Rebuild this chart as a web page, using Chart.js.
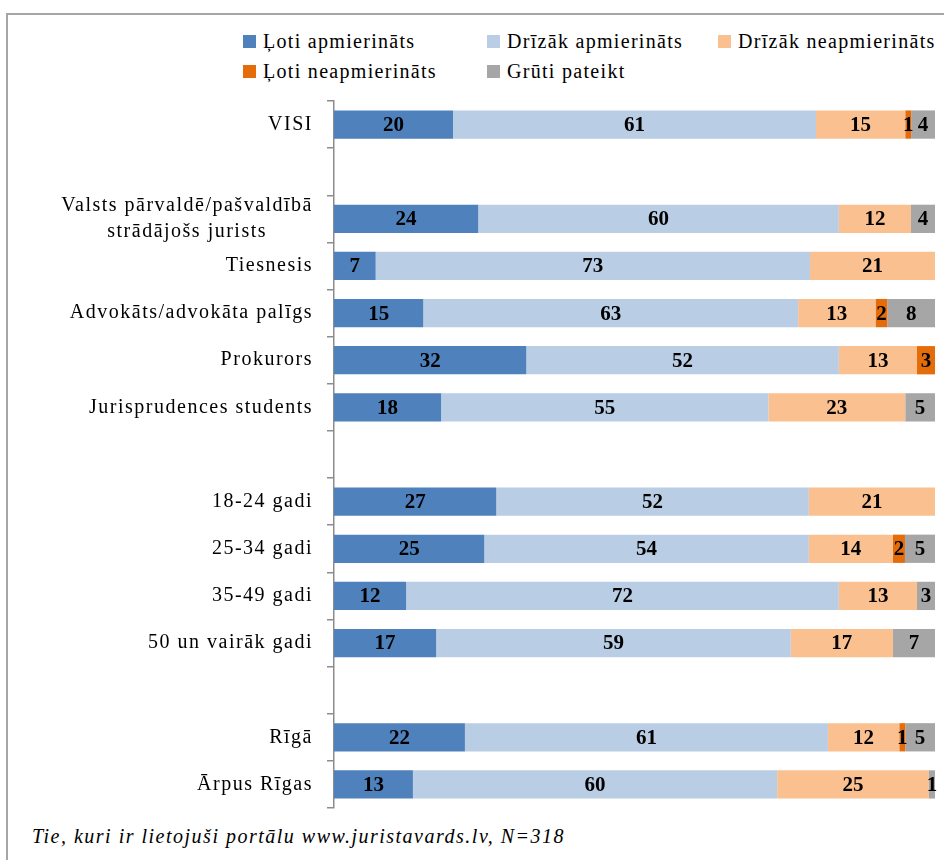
<!DOCTYPE html>
<html>
<head>
<meta charset="utf-8">
<script src="https://cdn.jsdelivr.net/npm/chart.js@4.4.0/dist/chart.umd.min.js"></script>
<style>
  body { margin: 0; background: #fff; }
  #wrap { position: relative; width: 944px; height: 860px; overflow: hidden; }
  #frame { position: absolute; left: 6px; top: 13px; width: 1000px; height: 1000px;
           border-left: 2px solid #a6a6a6; border-top: 2px solid #a6a6a6; }
  #legend { position: absolute; left: 243px; top: 26px; font-family: "Liberation Serif", serif;
            font-size: 20px; letter-spacing: 1.3px; color: #000; white-space: nowrap; }
  .row { display: flex; height: 30px; align-items: center; }
  .item { display: flex; align-items: center; }
  .item:nth-child(1) { width: 244px; }
  .item:nth-child(2) { width: 231px; }
  .sq { width: 13px; height: 13px; margin-right: 7px; }
  #chartBox { position: absolute; left: 0; top: 90px; width: 944px; height: 725px; }
  #note { position: absolute; left: 32px; top: 825px; font-family: "Liberation Serif", serif;
          font-size: 20px; font-style: italic; letter-spacing: 1.5px; white-space: nowrap; }
</style>
</head>
<body>
<div id="wrap">
  <div id="frame"></div>
  <div id="legend"></div>
  <div id="chartBox"><canvas id="chart"></canvas></div>
  <div id="note">Tie, kuri ir lietojuši portālu www.juristavards.lv, N=318</div>
</div>
<script>
// kategorijas (tukšās rindas = atstarpes starp grupām)
const categories = [
    'VISI', '',
    ['Valsts pārvaldē/pašvaldībā', 'strādājošs jurists'],
    'Tiesnesis', 'Advokāts/advokāta palīgs', 'Prokurors', 'Jurisprudences students', '',
    '18-24 gadi', '25-34 gadi', '35-49 gadi', '50 un vairāk gadi', '',
    'Rīgā', 'Ārpus Rīgas'
];

const seriesNames = ['Ļoti apmierināts', 'Drīzāk apmierināts', 'Drīzāk neapmierināts', 'Ļoti neapmierināts', 'Grūti pateikt'];
const seriesColors = ['#4f81bd', '#b9cde5', '#fac090', '#e46c0a', '#a6a6a6'];

const lotiApm      = [20, null, 24,  7, 15, 32, 18, null, 27, 25, 12, 17, null, 22, 13];
const drizakApm    = [61, null, 60, 73, 63, 52, 55, null, 52, 54, 72, 59, null, 61, 60];
const drizakNeapm  = [15, null, 12, 21, 13, 13, 23, null, 21, 14, 13, 17, null, 12, 25];
const lotiNeapm    = [ 1, null,  0,  0,  2,  3,  0, null,  0,  2,  0,  0, null,  1,  0];
const grutiPateikt = [ 4, null,  4,  0,  8,  0,  5, null,  0,  5,  3,  7, null,  5,  1];

const series = [lotiApm, drizakApm, drizakNeapm, lotiNeapm, grutiPateikt];

// 100% joslas: katras rindas summa = 100
function rowTotal(i) {
    let s = 0;
    series.forEach(arr => { s += arr[i] || 0; });
    return s;
}
function share(arr) {
    return arr.map((v, i) => v === null ? null : v / rowTotal(i) * 100);
}

const FONT = "'Liberation Serif', 'Times New Roman', serif";

// leģenda
const legend = document.getElementById('legend');
[[0, 1, 2], [3, 4]].forEach(idxs => {
    const row = document.createElement('div');
    row.className = 'row';
    idxs.forEach(k => {
        const it = document.createElement('div');
        it.className = 'item';
        it.innerHTML = '<span class="sq" style="background:' + seriesColors[k] + '"></span>' + seriesNames[k];
        row.appendChild(it);
    });
    legend.appendChild(row);
});

// vērtību uzraksti joslu vidū
const valueLabels = {
    id: 'valueLabels',
    afterDatasetsDraw(chart) {
        const ctx = chart.ctx;
        ctx.save();
        ctx.font = 'bold 21px ' + FONT;
        ctx.fillStyle = '#000';
        ctx.textAlign = 'center';
        ctx.textBaseline = 'middle';
        chart.data.datasets.forEach((ds, d) => {
            const meta = chart.getDatasetMeta(d);
            meta.data.forEach((el, i) => {
                const v = series[d][i];
                if (!v) return;
                ctx.fillText(String(v), (el.x + el.base) / 2, el.y + 1);
            });
        });
        ctx.restore();
    }
};

// kategoriju nosaukumi: bloks pielīdzināts pa labi, rindas centrētas
const categoryLabels = {
    id: 'categoryLabels',
    afterDraw(chart) {
        const ctx = chart.ctx;
        const y = chart.scales.y;
        const right = 313;
        const lineH = 26;
        ctx.save();
        ctx.font = '20px ' + FONT;
        ctx.letterSpacing = '1.5px';
        ctx.fillStyle = '#000';
        ctx.textAlign = 'center';
        ctx.textBaseline = 'middle';
        categories.forEach((lab, i) => {
            const lines = Array.isArray(lab) ? lab : [lab];
            if (!lines[0]) return;
            const w = Math.max(...lines.map(s => ctx.measureText(s).width));
            const cx = right - w / 2;
            const cy = y.getPixelForValue(i);
            lines.forEach((s, j) => {
                ctx.fillText(s, cx, cy + (j - (lines.length - 1) / 2) * lineH);
            });
        });
        ctx.restore();
    }
};

new Chart(document.getElementById('chart'), {
    type: 'bar',
    data: {
        labels: categories,
        datasets: series.map((arr, k) => ({
            label: seriesNames[k],
            data: share(arr),
            backgroundColor: seriesColors[k],
            borderWidth: 0,
            barPercentage: 0.6,
            categoryPercentage: 1
        }))
    },
    options: {
        indexAxis: 'y',
        responsive: true,
        maintainAspectRatio: false,
        animation: false,
        layout: { padding: { top: 11, right: 9, bottom: 7, left: 0 } },
        plugins: { legend: { display: false }, tooltip: { enabled: false } },
        scales: {
            x: { stacked: true, min: 0, max: 100, display: false },
            y: {
                stacked: true,
                afterFit(scale) {
                    scale.width = 334;
                    scale.paddingTop = 0;
                    scale.paddingBottom = 0;
                },
                border: { display: true, color: '#8c8c8c', width: 1.5 },
                grid: { drawOnChartArea: false, drawTicks: true, tickLength: 7, color: '#8c8c8c', lineWidth: 1.5, offset: true },
                ticks: { display: false }
            }
        }
    },
    plugins: [valueLabels, categoryLabels]
});
</script>
</body>
</html>
